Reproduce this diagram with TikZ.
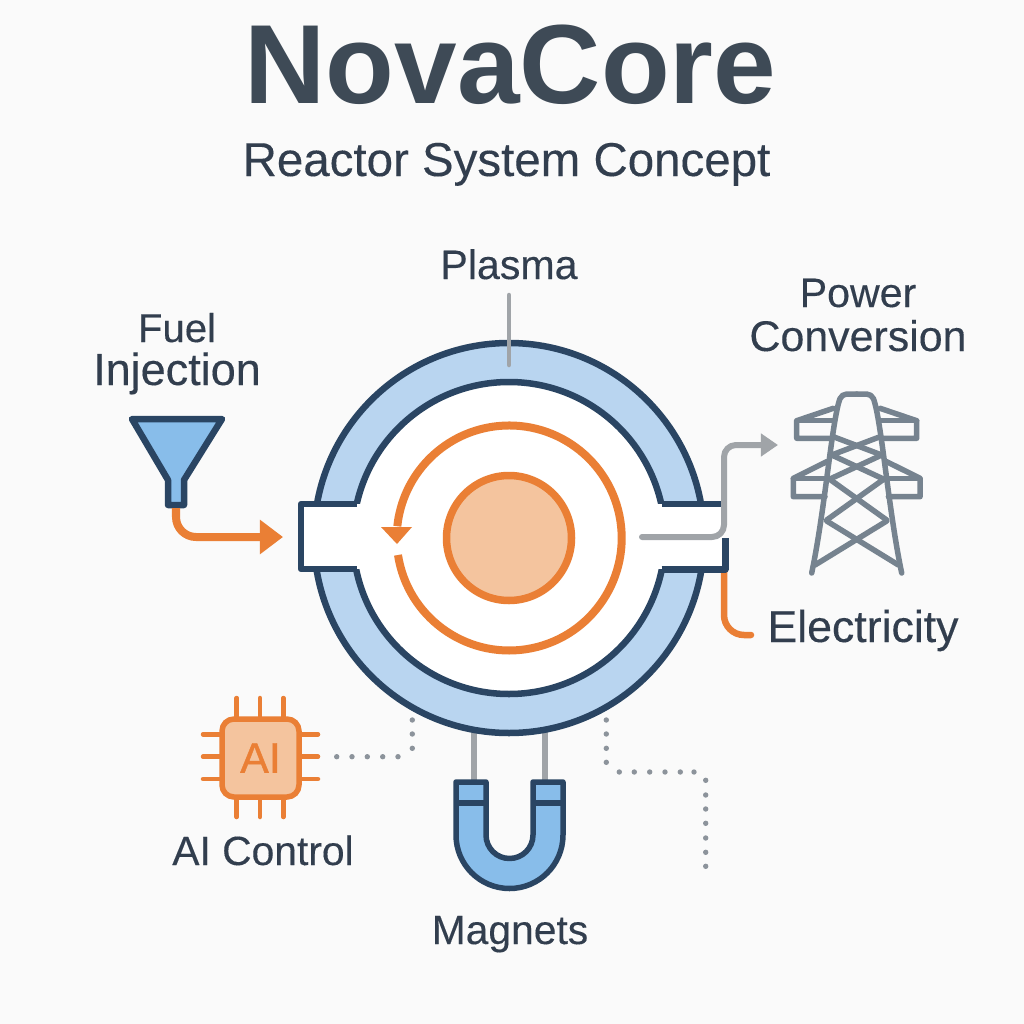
\documentclass[tikz,border=0pt]{standalone}
\usepackage{fontspec}
\setmainfont{Liberation Sans}
\newfontfamily\medfont{Liberation Sans}[FakeBold=0.25]
\newfontfamily\chipfont{Liberation Sans}[FakeBold=1]
\usetikzlibrary{arrows.meta,calc,positioning}
\definecolor{bgcol}{HTML}{FAFAFA}
\definecolor{titlecol}{HTML}{3E4A56}
\definecolor{inkcol}{HTML}{323E4E}
\definecolor{navycol}{HTML}{2A4563}
\definecolor{ringcol}{HTML}{B9D5F0}
\definecolor{bluecol}{HTML}{88BDEA}
\definecolor{orangecol}{HTML}{EA7F35}
\definecolor{peachcol}{HTML}{F4C49E}
\definecolor{greycol}{HTML}{A0A4A8}
\definecolor{pyloncol}{HTML}{76838F}
\definecolor{dotcol}{HTML}{8C939B}
\newcommand{\lblfont}[1]{\medfont\fontsize{#1}{#1}\selectfont}

\begin{document}
\begin{tikzpicture}[x=0.01cm,y=-0.01cm,line join=round,
  lbl/.style={text=inkcol,anchor=base,inner sep=0pt},
  navyline/.style={draw=navycol,line width=0.65mm},
  feedline/.style={draw=orangecol,line width=0.7mm,rounded corners=2mm},
  greyline/.style={draw=greycol,line width=0.6mm,line cap=round},
  pinline/.style={draw=orangecol,line width=0.45mm,line cap=round},
  pylonline/.style={draw=pyloncol,line width=0.55mm,line cap=round}]
\fill[bgcol] (0,0) rectangle (1024,1024);
% titles
\node[lbl,text=titlecol,font=\bfseries\fontsize{32pt}{33pt}\selectfont] (title) at (510.5,103) {NovaCore};
\node[lbl,font=\lblfont{13.5pt}] (subtitle) at (506.5,176) {Reactor System Concept};
% anchor points of the connectors
\coordinate (Cc) at (509,538);
\coordinate (PlasmaTop) at (509,295);
\coordinate (PlasmaEnd) at (509,365);
\coordinate (FuelStart) at (176,508);
\coordinate (FuelEnd) at (283,537);
\coordinate (OutStart) at (642,537);
\coordinate (OutEnd) at (778,445);
\coordinate (ElecStart) at (724,565);
\coordinate (ElecEnd) at (751,635);
% electricity lead goes under the port
\draw[feedline,line width=0.65mm,line cap=round] (ElecStart)--(ElecStart|-ElecEnd)--(ElecEnd);
% magnet stems
\draw[greycol,line width=0.55mm] (474,730)--(474,784);
\draw[greycol,line width=0.55mm] (545,730)--(545,784);
% reactor ring
\fill[ringcol] (Cc) circle[radius=195];
\draw[navyline] (Cc) circle[radius=195];
\draw[navyline,fill=white] (Cc) circle[radius=156];
\fill[white] (302,504) rectangle (723,569);
\draw[navyline] (356.5,504)--(301,504)--(301,569)--(356.5,569);
\draw[navyline] (661.5,504)--(721,504);
\draw[navyline,line width=0.7mm] (661.5,569)--(725,569)--(725,538);
% plasma core and loop
\draw[draw=orangecol,fill=peachcol,line width=0.75mm] (Cc) circle[radius=62.5];
\draw[orangecol,line width=0.8mm] (398,555) arc[start angle=171.3,end angle=-174,radius=112.5];
\fill[orangecol] (381,527)--(412,527)--(397,544)--cycle;
% plasma leader and outlet
\draw[greyline,line width=0.45mm] (PlasmaTop)--(PlasmaEnd);
\draw[greyline,rounded corners=1.2mm,-{Triangle[length=1.7mm,width=2.2mm]}] (OutStart)--(724,537)--(724,445)--(OutEnd);
% fuel funnel
\draw[navyline,fill=bluecol] (132,419)--(222,419)--(184,480)--(184,505)--(168,505)--(168,480)--cycle;
\draw[feedline,line width=0.8mm,-{Triangle[length=2.3mm,width=3.3mm]}] (FuelStart)--(FuelStart|-FuelEnd)--(FuelEnd);
% pylon, left half mirrored
\foreach \s in {1,-1}{
\begin{scope}[shift={(856.7,0)},xscale=\s]
\draw[pylonline,rounded corners=0.5mm] (0,394)--(-15,394) .. controls (-24.7,420) and (-31.7,510) .. (-45,573);
\draw[pylonline] (-23.4,408.3)--(-60,420.7)--(-60,438.3)--(-26,438.3);
\draw[pylonline] (-60,420.7)--(-23.7,420.7);
\draw[pylonline] (-30,461.7)--(-63.4,478.3)--(-63.4,496.7)--(-31.7,496.7);
\draw[pylonline] (-63.4,478.3)--(-30,478.3);
\draw[pylonline] (-23.4,436.7)--(25,455);
\draw[pylonline] (-25,455)--(26.7,479);
\draw[pylonline] (-28.3,478.3)--(30,520);
\draw[pylonline] (-30,521)--(41.7,565);
\end{scope}}
% AI chip
\foreach \x in {236.7,260,283.3}{\draw[pinline] (\x,698)--(\x,817);}
\foreach \y in {734.3,756.7,779}{\draw[pinline] (203,\y)--(318,\y);}
\draw[draw=orangecol,fill=peachcol,line width=0.55mm,rounded corners=1.2mm] (222,719) rectangle (299,797);
\node[inner sep=0pt,text=orangecol,font=\chipfont\fontsize{12.2pt}{13pt}\selectfont] (chip) at (260.5,758) {AI};
% dotted control lines
\foreach \x/\y in {336.7/756.7,352/756.7,367.3/756.7,382.7/756.7,398/756.7,412.3/748.3,412.3/734,412.3/720}{\fill[dotcol] (\x,\y) circle[radius=2.7];}
\foreach \y in {720,734,748.3,762.3}{\fill[dotcol] (606.3,\y) circle[radius=2.7];}
\foreach \x in {619.3,634.3,649.7,665,680.3,694}{\fill[dotcol] (\x,772) circle[radius=2.7];}
\foreach \y in {780.3,795,809,823.3,838,852.3,866.3}{\fill[dotcol] (705.7,\y) circle[radius=2.7];}
% magnet
\draw[navyline,line width=0.55mm,fill=bluecol] (456,782)--(456,835) arc[start angle=180,end angle=0,radius=53.5]--(563,782)--(533,782)--(533,835) arc[start angle=0,end angle=180,radius=23.5]--(486,782)--cycle;
\draw[navyline,line width=0.55mm] (456,803)--(486,803);
\draw[navyline,line width=0.55mm] (533,803)--(563,803);
% labels
\node[lbl,font=\lblfont{11.7pt}] (plasma) at (509,279) {Plasma};
\node[lbl,font=\lblfont{11.4pt}] (fuel) at (177,342) {Fuel};
\node[lbl,font=\lblfont{12.8pt}] (injection) at (177,385) {Injection};
\node[lbl,font=\lblfont{11.7pt}] (power) at (858,307) {Power};
\node[lbl,font=\lblfont{12.2pt}] (conversion) at (858,351) {Conversion};
\node[lbl,font=\lblfont{12.7pt}] (electricity) at (863,642) {Electricity};
\node[lbl,font=\lblfont{11.6pt}] (aictl) at (263,865) {AI Control};
\node[lbl,font=\lblfont{11.6pt}] (magnets) at (510,944) {Magnets};
\end{tikzpicture}
\end{document}
